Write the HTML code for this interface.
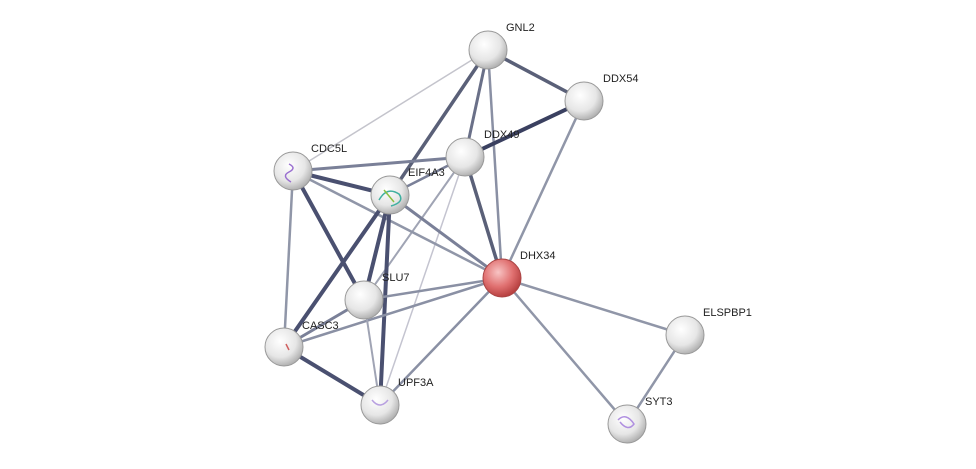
<!DOCTYPE html>
<html><head><meta charset="utf-8"><style>
html,body{margin:0;padding:0;background:#fff;}
svg{display:block;}
text{font-family:"Liberation Sans",sans-serif;font-size:11px;fill:#222;}
</style></head><body>
<svg width="976" height="469" viewBox="0 0 976 469" xmlns="http://www.w3.org/2000/svg">
<defs>
<radialGradient id="g" cx="0.4" cy="0.35" r="0.7">
<stop offset="0" stop-color="#ffffff"/><stop offset="0.6" stop-color="#e6e6e6"/><stop offset="1" stop-color="#a8a8a8"/>
</radialGradient>
<radialGradient id="r" cx="0.4" cy="0.35" r="0.7">
<stop offset="0" stop-color="#f8c4c4"/><stop offset="0.55" stop-color="#e07070"/><stop offset="1" stop-color="#b03838"/>
</radialGradient>
</defs>
<g stroke-linecap="round">
<line x1="488" y1="50" x2="584" y2="101" stroke="#5a6078" stroke-width="3.5"/>
<line x1="488" y1="50" x2="293" y2="171" stroke="#c4c4cc" stroke-width="1.5"/>
<line x1="488" y1="50" x2="390" y2="195" stroke="#5a6078" stroke-width="3.5"/>
<line x1="488" y1="50" x2="465" y2="157" stroke="#6a7088" stroke-width="3"/>
<line x1="488" y1="50" x2="502" y2="278" stroke="#8a90a4" stroke-width="2.5"/>
<line x1="584" y1="101" x2="465" y2="157" stroke="#3a4060" stroke-width="4"/>
<line x1="584" y1="101" x2="502" y2="278" stroke="#9096a8" stroke-width="2.5"/>
<line x1="465" y1="157" x2="293" y2="171" stroke="#7a8098" stroke-width="3"/>
<line x1="465" y1="157" x2="390" y2="195" stroke="#7a8098" stroke-width="2.5"/>
<line x1="465" y1="157" x2="502" y2="278" stroke="#5a6078" stroke-width="3.5"/>
<line x1="465" y1="157" x2="364" y2="300" stroke="#a0a4b4" stroke-width="2"/>
<line x1="465" y1="157" x2="380" y2="405" stroke="#c4c4d0" stroke-width="1.5"/>
<line x1="293" y1="171" x2="390" y2="195" stroke="#4a5070" stroke-width="4"/>
<line x1="293" y1="171" x2="502" y2="278" stroke="#9096a8" stroke-width="2.5"/>
<line x1="293" y1="171" x2="364" y2="300" stroke="#4a5070" stroke-width="4"/>
<line x1="293" y1="171" x2="284" y2="347" stroke="#9096a8" stroke-width="2.5"/>
<line x1="390" y1="195" x2="502" y2="278" stroke="#7a8098" stroke-width="3"/>
<line x1="390" y1="195" x2="364" y2="300" stroke="#4a5070" stroke-width="4"/>
<line x1="390" y1="195" x2="284" y2="347" stroke="#4a5070" stroke-width="4"/>
<line x1="390" y1="195" x2="380" y2="405" stroke="#4a5070" stroke-width="4"/>
<line x1="502" y1="278" x2="364" y2="300" stroke="#8a90a4" stroke-width="2.5"/>
<line x1="502" y1="278" x2="284" y2="347" stroke="#8a90a4" stroke-width="2.5"/>
<line x1="502" y1="278" x2="380" y2="405" stroke="#8a90a4" stroke-width="2.5"/>
<line x1="502" y1="278" x2="685" y2="335" stroke="#9096a8" stroke-width="2.5"/>
<line x1="502" y1="278" x2="627" y2="424" stroke="#9096a8" stroke-width="2.5"/>
<line x1="364" y1="300" x2="284" y2="347" stroke="#7a8098" stroke-width="3"/>
<line x1="364" y1="300" x2="380" y2="405" stroke="#a0a4b4" stroke-width="2"/>
<line x1="284" y1="347" x2="380" y2="405" stroke="#4a5070" stroke-width="4"/>
<line x1="685" y1="335" x2="627" y2="424" stroke="#9096a8" stroke-width="2.5"/>
</g>
<g stroke="#999" stroke-width="1">
<circle cx="488" cy="50" r="19" fill="url(#g)"/>
<circle cx="584" cy="101" r="19" fill="url(#g)"/>
<circle cx="465" cy="157" r="19" fill="url(#g)"/>
<circle cx="293" cy="171" r="19" fill="url(#g)"/>
<circle cx="390" cy="195" r="19" fill="url(#g)"/>
<circle cx="502" cy="278" r="19" fill="url(#r)" stroke="#a44"/>
<circle cx="364" cy="300" r="19" fill="url(#g)"/>
<circle cx="284" cy="347" r="19" fill="url(#g)"/>
<circle cx="380" cy="405" r="19" fill="url(#g)"/>
<circle cx="685" cy="335" r="19" fill="url(#g)"/>
<circle cx="627" cy="424" r="19" fill="url(#g)"/>
</g>
<g fill="none" stroke-width="1.5">
<path d="M379 200 q8 -14 20 -6 q6 8 -8 12" stroke="#40b0a0"/>
<path d="M384 190 l10 12" stroke="#8ac040"/>
<path d="M289 164 q8 4 0 8 q-8 4 2 10" stroke="#9a70d0"/>
<path d="M372 400 q8 10 16 0" stroke="#b8a0e0"/>
<path d="M618 420 q8 -8 16 4 q-6 8 -14 -2" stroke="#b090e0"/>
<path d="M286 344 l3 6" stroke="#d06060"/>
</g>
<text x="506" y="31">GNL2</text>
<text x="603" y="82">DDX54</text>
<text x="484" y="138">DDX49</text>
<text x="311" y="152">CDC5L</text>
<text x="408" y="176">EIF4A3</text>
<text x="520" y="259">DHX34</text>
<text x="382" y="281">SLU7</text>
<text x="302" y="329">CASC3</text>
<text x="398" y="386">UPF3A</text>
<text x="703" y="316">ELSPBP1</text>
<text x="645" y="405">SYT3</text>
</svg>
</body></html>
